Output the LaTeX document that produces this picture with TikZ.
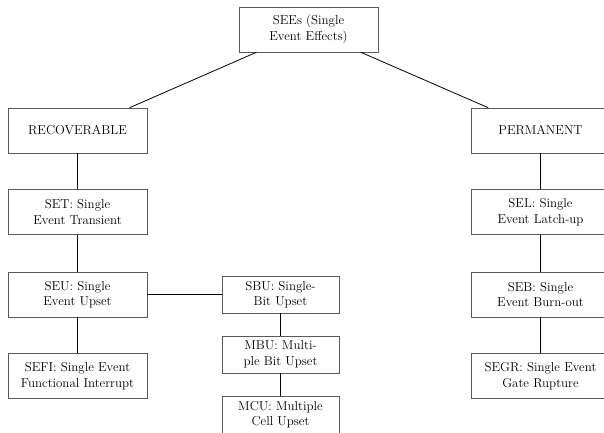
\documentclass[tikz,border=0pt]{standalone}
\begin{document}
\begin{tikzpicture}[x=1pt,y=-1pt,
  box/.style={draw=black!65, line width=0.6pt, rectangle, inner sep=0pt,
    minimum width=139pt, minimum height=45pt, align=center,
    font=\fontsize{12.9}{15.5}\selectfont},
  subbox/.style={box, minimum width=117pt, minimum height=37pt},
  link/.style={draw=black, line width=0.8pt}]
\clip (0,0) rectangle (604,432);
\useasboundingbox (0,0) rectangle (604,432);

% root
\node[box] (sees) at (308.5,29.5) {SEEs (Single\\Event Effects)};

% recoverable branch
\node[box] (rec)  at (77.5,130.5) {RECOVERABLE};
\node[box] (set)  at (77.5,212)   {SET: Single\\Event Transient};
\node[box] (seu)  at (77.5,294.5) {SEU: Single\\Event Upset};
\node[box] (sefi) at (77.5,376)   {SEFI: Single Event\\Functional Interrupt};

% upset sub-types
\node[subbox] (sbu) at (280.5,294.5) {SBU: Single-\\Bit Upset};
\node[subbox] (mbu) at (280.5,354.5) {MBU: Multi-\\ple Bit Upset};
\node[subbox] (mcu) at (280.5,414.5) {MCU: Multiple\\Cell Upset};

% permanent branch
\node[box] (perm) at (540.5,130.5) {PERMANENT};
\node[box] (sel)  at (540.5,212)   {SEL: Single\\Event Latch-up};
\node[box] (seb)  at (540.5,294.5) {SEB: Single\\Event Burn-out};
\node[box] (segr) at (540.5,376)   {SEGR: Single Event\\Gate Rupture};

% connectors
\draw[link] (sees) -- (rec);
\draw[link] (sees) -- (perm);
\draw[link] (rec) -- (set);
\draw[link] (set) -- (seu);
\draw[link] (seu) -- (sefi);
\draw[link] (seu) -- (sbu);
\draw[link] (sbu) -- (mbu);
\draw[link] (mbu) -- (mcu);
\draw[link] (perm) -- (sel);
\draw[link] (sel) -- (seb);
\draw[link] (seb) -- (segr);
\end{tikzpicture}
\end{document}
